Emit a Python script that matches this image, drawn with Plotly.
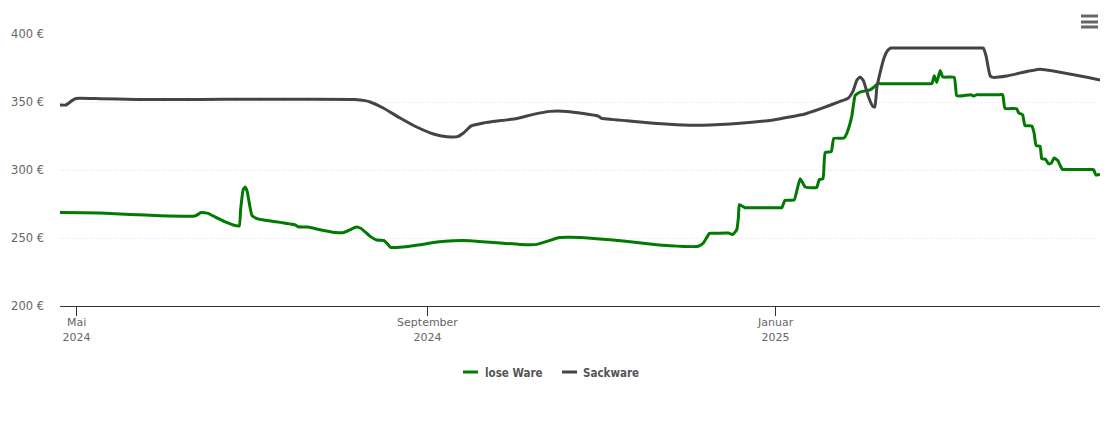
import pandas as pd
import plotly.graph_objects as go

# days counted from 1 May 2024, prices in euro
lose_days = [-5.8, 8.2, 18.8, 29.3, 41.5, 42.6, 43.6, 46.1, 48.5, 52.1, 54.9, 57.0, 57.5, 58.4, 59.1, 59.8,
             61.5, 63.6, 66.1, 69.6, 76.6, 77.6, 81.1, 85.3, 90.6, 93.4, 95.9, 98.0, 99.7, 102.9, 105.2,
             107.8, 108.7, 110.1, 114.4, 120.4, 126.3, 132.0, 137.9, 147.3, 155.4, 161.3, 164.8, 168.9,
             173.0, 182.3, 191.6, 201.0, 208.0, 217.9, 219.7, 221.8, 222.8, 227.5, 228.5, 230.0, 231.4, 232.0, 232.3,
             234.3, 235.3, 246.2, 247.2, 248.3, 251.5, 252.4, 253.6, 255.4, 259.4, 260.3, 261.6, 262.4, 264.5, 265.4,
             269.0, 270.0, 271.7, 272.9, 274.6, 278.1, 279.5, 280.8, 281.8, 298.8, 299.8, 300.6, 301.5, 302.7, 303.6,
             307.6, 308.5, 310.8, 313.4, 314.5, 315.5, 316.5, 323.6, 324.6, 325.4, 329.5, 330.2, 331.6, 332.4, 334.8,
             335.6, 336.3, 337.7, 338.3, 339.7, 340.6, 341.6, 342.6, 343.9, 345.5, 346.5, 355.4, 356.4, 357.3, 358.7]
lose_ware = [268.7, 268.4, 267.3, 266.4, 266.2, 267.4, 268.8, 268.1, 265.5, 261.8, 259.6, 258.8, 270.8, 285.5, 287.5, 284.3,
             266.4, 264.0, 263.0, 262.0, 259.6, 258.3, 258.1, 256.1, 254.1, 253.9, 256.1, 258.1, 257.0, 251.2, 248.5,
             248.0, 246.3, 243.1, 243.4, 245.0, 247.0, 248.0, 248.0, 246.5, 245.3, 245.3, 247.5, 250.2,
             250.5, 249.5, 247.8, 245.6, 244.3, 243.9, 246.3, 253.4, 253.5, 253.6, 253.7, 252.6, 256.1, 265.9, 274.5,
             272.3, 272.3, 272.3, 272.3, 277.7, 277.9, 284.3, 293.6, 287.5, 287.2, 292.9, 293.6, 312.9, 313.5, 323.2,
             323.5, 327.2, 339.4, 354.9, 357.3, 359.0, 361.0, 363.5, 363.5, 363.5, 363.5, 369.3, 364.4, 373.2, 368.4,
             368.1, 354.6, 354.6, 355.4, 354.4, 355.4, 355.4, 355.4, 355.4, 345.3, 345.1, 342.0, 340.5, 332.6, 332.4,
             327.2, 318.0, 317.4, 308.3, 307.8, 304.6, 304.9, 308.8, 307.0, 300.4, 300.4, 300.4, 300.4, 296.3, 297.0]

sack_days = [-5.8, -3.7, -1.6, -0.2, 8.2, 20.5, 43.3, 97.6, 101.1, 102.9, 107.5, 113.4, 119.2, 125.1, 129.8,
             133.5, 135.6, 138.3, 142.6, 154.3, 160.1, 166.0, 171.8, 177.6, 182.9, 183.8, 192.8, 202.2,
             212.7, 222.0, 229.1, 244.2, 255.3, 260.6, 267.6, 270.5, 272.1, 273.5, 274.6, 275.8, 277.5,
             279.1, 279.8, 280.5, 281.6, 283.0, 284.2, 285.4, 286.4, 316.8, 317.8, 318.8, 320.2, 321.3, 326.0, 337.7, 358.7]
sackware = [347.8, 347.8, 351.0, 352.6, 352.4, 351.9, 351.9, 351.9, 351.0, 350.0, 345.6, 338.2, 331.6, 326.5, 324.5,
            324.5, 327.2, 332.4, 334.6, 337.9, 340.9, 343.1, 343.1, 341.6, 339.7, 338.2, 336.2, 334.3,
            333.1, 333.1, 333.8, 336.8, 341.2, 344.9, 350.4, 352.9, 357.8, 366.2, 368.4, 365.7, 354.1,
            346.8, 346.3, 361.0, 371.3, 382.4, 387.7, 389.7, 389.7, 389.7, 389.7, 383.5, 369.3, 368.1, 369.1, 374.0, 366.2]

tick_dates = ["2024-05-01", "2024-09-01", "2025-01-01"]
tick_labels = ["Mai<br>2024", "September<br>2024", "Januar<br>2025"]
y_ticks = [200, 250, 300, 350, 400]
y_labels = ["200 €", "250 €", "300 €", "350 €", "400 €"]

start = pd.Timestamp("2024-05-01")

GREEN = "#007a00"
DARK = "#434348"

# the page body has an 8px margin, so everything is placed 8px in
W, H = 1094, 407
L, R, T, B = 52, 2, 26, 109
plot_w, plot_h = W - L - R, H - T - B


def to_dates(days):
    return [start + pd.Timedelta(days=d) for d in days]


def px(x):
    return (x - 8 - L) / plot_w


def py(y):
    return (8 + T + plot_h - y) / plot_h


fig = go.Figure()
fig.add_trace(go.Scatter(x=to_dates(lose_days), y=lose_ware, name="lose Ware", mode="lines",
                         line=dict(color=GREEN, width=3, shape="spline", smoothing=0.4)))
fig.add_trace(go.Scatter(x=to_dates(sack_days), y=sackware, name="Sackware", mode="lines",
                         line=dict(color=DARK, width=3, shape="spline", smoothing=0.4)))

fig.update_xaxes(range=[to_dates(lose_days)[0], to_dates(lose_days)[-1]],
                 tickvals=tick_dates, ticktext=tick_labels,
                 showgrid=False, showline=True, linecolor="#333333", linewidth=1,
                 ticks="outside", ticklen=9, tickcolor="#333333", tickwidth=1,
                 ticklabelstandoff=-3,
                 tickfont=dict(color="#666666", size=11))
fig.update_yaxes(range=[200, 400], tickvals=y_ticks, ticktext=y_labels,
                 showgrid=True, gridcolor="#e2e2e2", griddash="1px,2px", gridwidth=1,
                 zeroline=False, showline=False, ticks="", ticklabelstandoff=15,
                 tickfont=dict(color="#666666", size=11.5))

# menu icon, top right
for y in [16, 22, 27]:
    fig.add_shape(type="line", xref="paper", yref="paper", x0=px(1081), x1=px(1098),
                  y0=py(y), y1=py(y), line=dict(color="#666666", width=3))

# legend with the short line samples of the original
legend_items = [("lose Ware", GREEN, 463, 484), ("Sackware", DARK, 562, 582)]
for label, color, line_x, text_x in legend_items:
    fig.add_shape(type="line", xref="paper", yref="paper", x0=px(line_x), x1=px(line_x + 15),
                  y0=py(372), y1=py(372), line=dict(color=color, width=3))
    fig.add_annotation(text=label, xref="paper", yref="paper", x=px(text_x), y=py(372.5),
                       xanchor="left", yanchor="middle", showarrow=False, xshift=-1,
                       font=dict(size=11.5, color="#555555", family="DejaVu Sans Condensed", weight="bold"))

fig.update_layout(
    width=W, height=H,
    margin=dict(l=L, r=R, t=T, b=B),
    paper_bgcolor="white", plot_bgcolor="white",
    font=dict(family="DejaVu Sans", color="#666666", size=11),
    showlegend=False,
)

fig.write_html("out.html")
